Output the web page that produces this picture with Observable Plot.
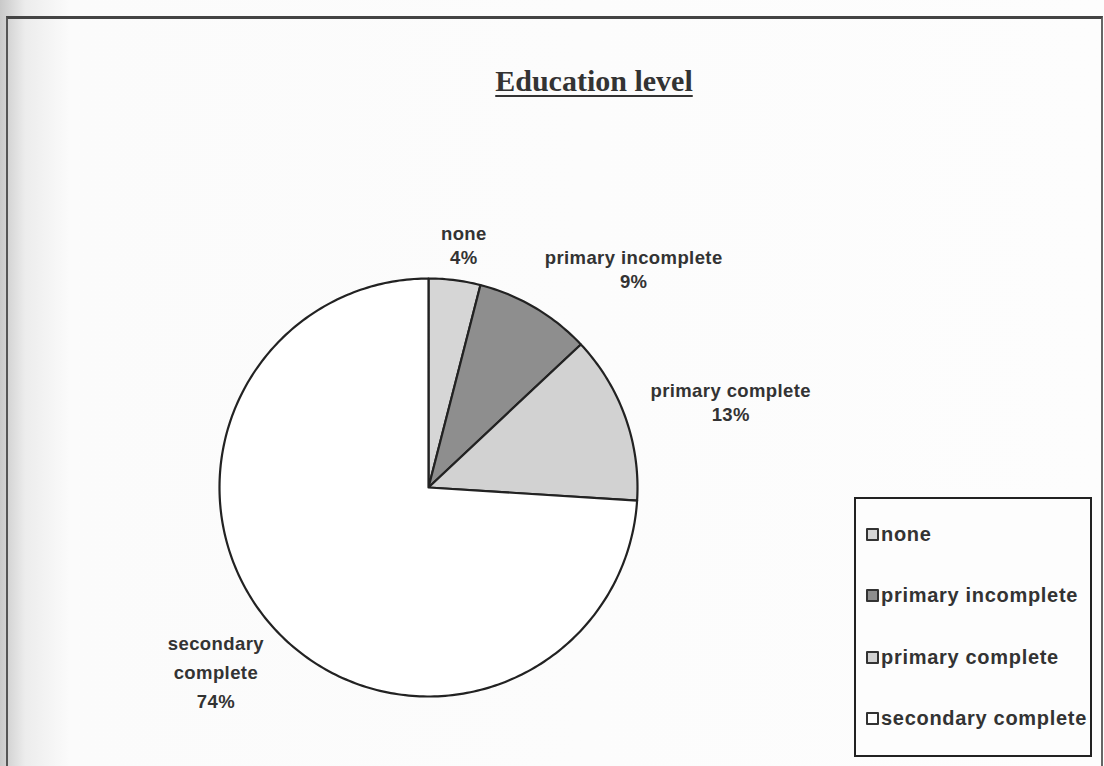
<!DOCTYPE html>
<html>
<head>
<meta charset="utf-8">
<script src="https://cdn.jsdelivr.net/npm/d3@7"></script>
<script src="https://cdn.jsdelivr.net/npm/@observablehq/plot@0.6"></script>
<style>
  html, body { margin: 0; padding: 0; }
  body { width: 1104px; height: 766px; overflow: hidden;
    background: linear-gradient(to right, #c9c9c9 0px, #ececec 25px, #fbfbfb 70px, #fdfdfd 100%); }
  #page { position: relative; width: 1104px; height: 766px; }
  #frame { position: absolute; left: 6px; top: 16px; width: 1093px; height: 760px;
    border-left: 2px solid #555; border-top: 3px solid #444; border-right: 2px solid #666; }
  #title { position: absolute; left: 0; width: 1188px; top: 64px; text-align: center;
    font-family: "Liberation Serif", serif; font-weight: bold; font-size: 30px; color: #333;
    text-decoration: underline; text-decoration-thickness: 2px; text-underline-offset: 4px; }
  #chart { position: absolute; left: 0; top: 0; }
  #legend { position: absolute; left: 854px; top: 497px; width: 238px; height: 260px;
    border: 2px solid #222; background: #fdfdfd; box-sizing: border-box;
    font-family: "Liberation Sans", Arial, sans-serif; font-weight: bold; font-size: 20px;
    letter-spacing: 0.7px; color: #333; }
  .item { position: absolute; left: 10px; display: flex; align-items: center; height: 24px; }
  .sw { width: 9px; height: 9px; border: 2px solid #333; margin-right: 2px; border-radius: 1px; }
</style>
</head>
<body>
<div id="page">
  <div id="frame"></div>
  <div id="chart"></div>
  <div id="title">Education level</div>
  <div id="legend"></div>
</div>
<script>
// ---- data ----
const categories = ["none", "primary incomplete", "primary complete", "secondary complete"];
const shares = [4, 9, 13, 74];
const labelTexts = ["none\n4%", "primary incomplete\n9%", "primary complete\n13%", "secondary\ncomplete\n74%"];
const sliceColors = ["#d6d6d6", "#8e8e8e", "#d2d2d2", "#ffffff"];
// label nudges (pixels) from the default outside position
const labelNudgeX = [6, 86, 82, -42];
const labelNudgeY = [-11, -18, -7, 22];

const R = 209; // pixel radius
const pie = d3.pie().sort(null).value(d => d.value).startAngle(0).endAngle(2 * Math.PI);
const data = categories.map((c, i) => ({category: c, value: shares[i], label: labelTexts[i], i}));
const arcs = pie(data);

// polygon points of each slice (arc geometry from the pie layout)
const pts = [];
for (const a of arcs) {
  const c = a.data.category;
  pts.push({category: c, x: 0, y: 0});
  const n = Math.max(2, Math.ceil((a.endAngle - a.startAngle) / (Math.PI / 180)));
  for (let k = 0; k <= n; k++) {
    const t = a.startAngle + (a.endAngle - a.startAngle) * k / n;
    pts.push({category: c, x: Math.sin(t), y: Math.cos(t)});
  }
  pts.push({category: c, x: 0, y: 0});
}

const labels = arcs.map(a => {
  const m = (a.startAngle + a.endAngle) / 2;
  const i = a.data.i;
  return {
    label: a.data.label,
    lines: a.data.label.split("\n").length,
    x: 1.12 * Math.sin(m) + labelNudgeX[i] / R,
    y: 1.12 * Math.cos(m) - labelNudgeY[i] / R
  };
});

const textStyle = {x: "x", y: "y", text: "label", fill: "#333", fontSize: 18.5, fontWeight: "bold",
  fontFamily: "Liberation Sans, Arial, sans-serif", textAnchor: "middle", lineAnchor: "middle"};

const plot = Plot.plot({
  width: 1104,
  height: 766,
  margin: 0,
  style: {background: "transparent", overflow: "visible"},
  x: {domain: [-1, 1], range: [428 - R, 428 + R], axis: null},
  y: {domain: [-1, 1], range: [487 + R, 487 - R], axis: null},
  color: {type: "ordinal", domain: categories, range: sliceColors},
  marks: [
    Plot.line(pts, {x: "x", y: "y", z: "category", fill: "category", stroke: "#222", strokeWidth: 2.2, strokeLinejoin: "round", curve: "linear"}),
    Plot.text(labels.filter(d => d.lines < 3), {...textStyle, lineHeight: 1.3}),
    Plot.text(labels.filter(d => d.lines >= 3), {...textStyle, lineHeight: 1.55})
  ]
});
plot.querySelectorAll("text").forEach(t => t.setAttribute("letter-spacing", "0.4"));
document.getElementById("chart").appendChild(plot);

// legend built from the same categories and colour scale
const color = plot.scale("color");
const legend = document.getElementById("legend");
categories.forEach((c, i) => {
  const it = document.createElement("div");
  it.className = "item";
  it.style.top = (23 + i * 61.5) + "px";
  const sw = document.createElement("span");
  sw.className = "sw";
  sw.style.background = color.range[color.domain.indexOf(c)];
  const tx = document.createElement("span");
  tx.textContent = c;
  it.appendChild(sw); it.appendChild(tx);
  legend.appendChild(it);
});
</script>
</body>
</html>
